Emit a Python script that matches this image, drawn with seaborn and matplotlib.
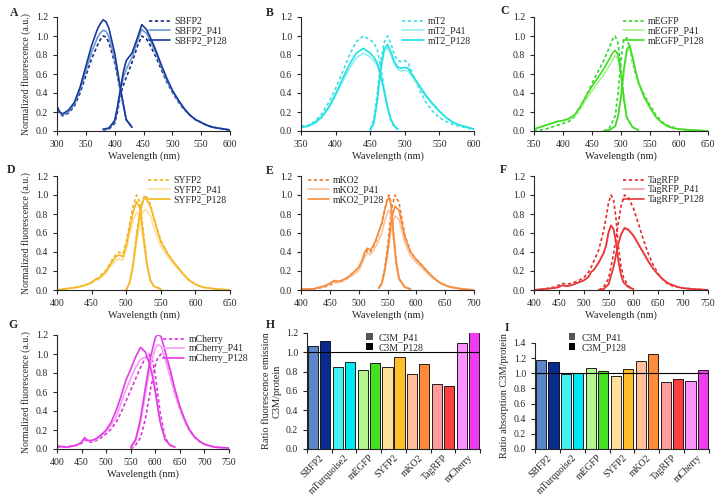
import pandas as pd
import matplotlib.pyplot as plt
import seaborn as sns
from matplotlib.patches import Patch

# =============================
# DADOS - espectros (excitacao / emissao)
# =============================

# SBFP2
sbfp2_ex_wl = [300, 305, 310, 320, 330, 340, 350, 360, 370, 375, 380, 385, 390, 400, 410, 420, 430]
sbfp2_ex = [0.22, 0.18, 0.16, 0.19, 0.26, 0.40, 0.58, 0.76, 0.90, 0.96, 1.00, 0.99, 0.93, 0.72, 0.42, 0.12, 0.04]
sbfp2_p41_ex = [0.24, 0.19, 0.17, 0.20, 0.28, 0.43, 0.63, 0.83, 0.98, 1.03, 1.06, 1.05, 0.99, 0.76, 0.43, 0.12, 0.04]
sbfp2_p128_ex = [0.26, 0.20, 0.18, 0.22, 0.30, 0.46, 0.68, 0.90, 1.07, 1.13, 1.17, 1.15, 1.08, 0.82, 0.45, 0.12, 0.04]
sbfp2_em_wl = [380, 390, 400, 405, 410, 415, 420, 430, 440, 447, 455, 460, 470, 480, 490, 500,
               510, 520, 530, 540, 550, 560, 570, 580, 590, 600]
sbfp2_em = [0.01, 0.02, 0.08, 0.20, 0.38, 0.48, 0.56, 0.72, 0.90, 1.00, 0.97, 0.92, 0.80, 0.66, 0.52, 0.41,
            0.31, 0.23, 0.17, 0.12, 0.09, 0.06, 0.04, 0.03, 0.02, 0.01]
sbfp2_p41_em = [0.01, 0.03, 0.10, 0.24, 0.42, 0.56, 0.65, 0.77, 0.96, 1.07, 1.03, 0.97, 0.84, 0.69, 0.54, 0.42,
                0.32, 0.24, 0.17, 0.12, 0.09, 0.06, 0.04, 0.03, 0.02, 0.01]
sbfp2_p128_em = [0.02, 0.03, 0.11, 0.26, 0.44, 0.62, 0.74, 0.82, 0.99, 1.12, 1.07, 1.01, 0.87, 0.71, 0.56, 0.43,
                 0.33, 0.24, 0.17, 0.12, 0.09, 0.06, 0.04, 0.03, 0.02, 0.01]

# mT2
mt2_ex_wl = [350, 360, 370, 380, 390, 400, 410, 420, 430, 440, 450, 455, 460, 465, 470, 475, 480, 485, 490]
mt2_ex = [0.05, 0.06, 0.10, 0.18, 0.30, 0.45, 0.62, 0.80, 0.94, 1.00, 0.96, 0.93, 0.86, 0.70, 0.45, 0.25, 0.10, 0.04, 0.02]
mt2_p41_ex = [0.04, 0.05, 0.08, 0.14, 0.24, 0.37, 0.52, 0.66, 0.77, 0.82, 0.78, 0.74, 0.69, 0.58, 0.42, 0.25, 0.12, 0.05, 0.02]
mt2_p128_ex = [0.04, 0.05, 0.09, 0.15, 0.25, 0.39, 0.55, 0.70, 0.82, 0.87, 0.82, 0.78, 0.72, 0.60, 0.43, 0.25, 0.12, 0.05, 0.02]
mt2_em_wl = [450, 455, 460, 465, 470, 475, 480, 485, 490, 495, 500, 505, 510, 520, 530, 540, 550, 560, 570, 580, 590, 600]
mt2_em = [0.02, 0.12, 0.38, 0.72, 0.93, 1.00, 0.92, 0.80, 0.74, 0.73, 0.74, 0.72, 0.62, 0.45, 0.31, 0.21,
          0.14, 0.10, 0.07, 0.05, 0.03, 0.02]
mt2_p41_em = [0.01, 0.08, 0.30, 0.62, 0.83, 0.88, 0.80, 0.70, 0.65, 0.63, 0.64, 0.63, 0.58, 0.47, 0.37, 0.28,
              0.20, 0.14, 0.09, 0.06, 0.04, 0.02]
mt2_p128_em = [0.01, 0.08, 0.31, 0.64, 0.86, 0.91, 0.83, 0.73, 0.67, 0.66, 0.67, 0.66, 0.60, 0.49, 0.38, 0.29,
               0.21, 0.14, 0.09, 0.06, 0.04, 0.02]

# mEGFP
megfp_ex_wl = [350, 360, 370, 380, 390, 400, 410, 420, 430, 440, 450, 460, 470, 480, 485, 490, 495, 500, 505, 510, 520, 530]
megfp_ex = [0.00, 0.01, 0.02, 0.04, 0.06, 0.08, 0.10, 0.15, 0.24, 0.37, 0.50, 0.62, 0.74, 0.88, 0.96, 1.00,
            0.92, 0.65, 0.35, 0.14, 0.04, 0.01]
megfp_p41_ex = [0.02, 0.04, 0.06, 0.08, 0.10, 0.11, 0.12, 0.16, 0.24, 0.33, 0.42, 0.51, 0.59, 0.69, 0.74, 0.79,
                0.76, 0.58, 0.33, 0.14, 0.04, 0.01]
megfp_p128_ex = [0.02, 0.04, 0.06, 0.08, 0.10, 0.11, 0.13, 0.17, 0.26, 0.37, 0.47, 0.56, 0.65, 0.76, 0.82, 0.85,
                 0.80, 0.60, 0.34, 0.14, 0.04, 0.01]
megfp_em_wl = [470, 480, 490, 495, 500, 505, 510, 515, 520, 525, 530, 540, 550, 560, 570, 580, 590, 600, 620, 650]
megfp_em = [0.00, 0.03, 0.16, 0.40, 0.75, 0.97, 0.98, 0.88, 0.72, 0.60, 0.50, 0.38, 0.27, 0.17, 0.10, 0.06,
            0.04, 0.02, 0.01, 0.00]
megfp_p41_em = [0.00, 0.01, 0.05, 0.15, 0.35, 0.62, 0.83, 0.87, 0.76, 0.62, 0.50, 0.35, 0.24, 0.15, 0.09, 0.05,
                0.03, 0.02, 0.01, 0.00]
megfp_p128_em = [0.00, 0.01, 0.05, 0.16, 0.37, 0.65, 0.86, 0.90, 0.78, 0.64, 0.52, 0.36, 0.25, 0.15, 0.09, 0.05,
                 0.03, 0.02, 0.01, 0.00]

# SYFP2
syfp2_ex_wl = [400, 410, 420, 430, 440, 450, 455, 460, 470, 480, 485, 490, 495, 500, 505, 510, 515, 520,
               525, 530, 535, 540, 550]
syfp2_ex = [0.00, 0.01, 0.02, 0.03, 0.05, 0.08, 0.11, 0.13, 0.20, 0.32, 0.37, 0.40, 0.38, 0.50, 0.70, 0.88,
            1.00, 0.92, 0.60, 0.28, 0.10, 0.04, 0.01]
syfp2_p41_ex = [0.00, 0.01, 0.02, 0.03, 0.05, 0.07, 0.10, 0.11, 0.17, 0.27, 0.31, 0.33, 0.31, 0.42, 0.58, 0.73,
                0.82, 0.76, 0.50, 0.25, 0.09, 0.04, 0.01]
syfp2_p128_ex = [0.00, 0.01, 0.02, 0.03, 0.05, 0.08, 0.11, 0.12, 0.19, 0.30, 0.35, 0.37, 0.35, 0.47, 0.65, 0.82,
                 0.93, 0.86, 0.56, 0.27, 0.10, 0.04, 0.01]
syfp2_em_wl = [500, 505, 510, 515, 520, 525, 528, 535, 540, 550, 560, 570, 580, 590, 600, 610, 620, 630, 650]
syfp2_em = [0.00, 0.08, 0.28, 0.58, 0.84, 0.97, 1.00, 0.90, 0.76, 0.52, 0.38, 0.28, 0.19, 0.11, 0.06, 0.03, 0.02, 0.01, 0.00]
syfp2_p41_em = [0.00, 0.07, 0.24, 0.50, 0.72, 0.83, 0.85, 0.78, 0.66, 0.46, 0.35, 0.26, 0.18, 0.10, 0.06, 0.03, 0.02, 0.01, 0.00]
syfp2_p128_em = [0.00, 0.08, 0.27, 0.56, 0.82, 0.95, 0.97, 0.88, 0.75, 0.51, 0.38, 0.28, 0.19, 0.11, 0.06, 0.03, 0.02, 0.01, 0.00]

# mKO2
mko2_ex_wl = [400, 420, 440, 450, 458, 465, 470, 480, 490, 500, 505, 510, 515, 520, 525, 530, 540, 545,
              550, 553, 556, 560, 565, 570, 580, 590]
mko2_ex = [0.00, 0.01, 0.03, 0.05, 0.08, 0.08, 0.09, 0.12, 0.16, 0.21, 0.27, 0.35, 0.42, 0.40, 0.45, 0.52,
           0.70, 0.84, 0.97, 1.00, 0.92, 0.62, 0.30, 0.12, 0.03, 0.01]
mko2_p41_ex = [0.01, 0.01, 0.04, 0.06, 0.09, 0.08, 0.09, 0.12, 0.16, 0.21, 0.27, 0.34, 0.39, 0.37, 0.41, 0.46,
               0.60, 0.72, 0.82, 0.84, 0.78, 0.55, 0.27, 0.11, 0.03, 0.01]
mko2_p128_ex = [0.01, 0.01, 0.04, 0.07, 0.10, 0.09, 0.10, 0.13, 0.18, 0.24, 0.30, 0.39, 0.44, 0.42, 0.46, 0.53,
                0.70, 0.84, 0.95, 0.97, 0.90, 0.62, 0.30, 0.12, 0.03, 0.01]
mko2_em_wl = [535, 540, 545, 550, 555, 558, 563, 570, 575, 580, 590, 600, 610, 620, 630, 640, 650, 660, 670, 680, 700]
mko2_em = [0.02, 0.08, 0.22, 0.45, 0.75, 0.88, 1.00, 0.92, 0.75, 0.58, 0.40, 0.32, 0.25, 0.18, 0.12, 0.08,
           0.05, 0.03, 0.02, 0.01, 0.00]
mko2_p41_em = [0.02, 0.06, 0.18, 0.36, 0.58, 0.68, 0.78, 0.74, 0.62, 0.50, 0.36, 0.29, 0.23, 0.17, 0.12, 0.08,
               0.05, 0.03, 0.02, 0.01, 0.00]
mko2_p128_em = [0.02, 0.07, 0.20, 0.40, 0.66, 0.77, 0.88, 0.84, 0.70, 0.56, 0.40, 0.32, 0.26, 0.19, 0.13, 0.08,
                0.05, 0.03, 0.02, 0.01, 0.00]

# TagRFP
tagrfp_ex_wl = [400, 420, 440, 450, 457, 465, 475, 490, 500, 510, 515, 520, 530, 540, 545, 550, 555, 560,
                565, 570, 575, 580, 590, 600]
tagrfp_ex = [0.00, 0.01, 0.03, 0.05, 0.07, 0.06, 0.07, 0.10, 0.13, 0.19, 0.24, 0.30, 0.42, 0.62, 0.76, 0.92,
             1.00, 0.95, 0.75, 0.45, 0.25, 0.13, 0.04, 0.01]
tagrfp_p41_ex = [0.00, 0.01, 0.02, 0.03, 0.05, 0.04, 0.05, 0.08, 0.10, 0.14, 0.19, 0.21, 0.28, 0.38, 0.46, 0.60,
                 0.68, 0.64, 0.50, 0.30, 0.16, 0.08, 0.03, 0.01]
tagrfp_p128_ex = [0.00, 0.01, 0.02, 0.03, 0.05, 0.04, 0.05, 0.08, 0.10, 0.14, 0.19, 0.21, 0.29, 0.39, 0.47, 0.61,
                  0.68, 0.64, 0.50, 0.30, 0.16, 0.08, 0.03, 0.01]
tagrfp_em_wl = [530, 540, 550, 560, 565, 570, 575, 582, 590, 600, 610, 620, 630, 640, 650, 660, 670, 680,
                690, 700, 720, 750]
tagrfp_em = [0.00, 0.03, 0.12, 0.38, 0.55, 0.72, 0.88, 1.00, 0.97, 0.86, 0.70, 0.53, 0.38, 0.26, 0.17, 0.10,
             0.06, 0.04, 0.03, 0.02, 0.01, 0.00]
tagrfp_p41_em = [0.00, 0.01, 0.06, 0.25, 0.38, 0.50, 0.59, 0.66, 0.64, 0.58, 0.49, 0.40, 0.31, 0.23, 0.16, 0.11,
                 0.07, 0.05, 0.03, 0.02, 0.01, 0.00]
tagrfp_p128_em = [0.00, 0.01, 0.06, 0.24, 0.37, 0.49, 0.58, 0.65, 0.63, 0.57, 0.48, 0.39, 0.30, 0.22, 0.16, 0.11,
                  0.07, 0.05, 0.03, 0.02, 0.01, 0.00]

# mCherry
mcherry_ex_wl = [400, 420, 440, 450, 456, 462, 470, 480, 490, 500, 510, 520, 530, 540, 550, 560, 570, 580,
                 587, 595, 600, 605, 610, 620, 630, 640]
mcherry_ex = [0.02, 0.02, 0.04, 0.06, 0.10, 0.08, 0.07, 0.09, 0.12, 0.16, 0.21, 0.28, 0.38, 0.50, 0.62, 0.74,
              0.86, 0.96, 1.00, 0.92, 0.78, 0.58, 0.38, 0.12, 0.04, 0.02]
mcherry_p41_ex = [0.03, 0.02, 0.04, 0.07, 0.11, 0.09, 0.08, 0.10, 0.14, 0.19, 0.25, 0.33, 0.48, 0.62, 0.74, 0.86,
                  0.94, 0.97, 0.92, 0.78, 0.62, 0.45, 0.30, 0.10, 0.04, 0.02]
mcherry_p128_ex = [0.03, 0.02, 0.04, 0.07, 0.12, 0.09, 0.09, 0.11, 0.15, 0.20, 0.28, 0.40, 0.55, 0.72, 0.84, 0.97,
                   1.07, 1.02, 0.92, 0.75, 0.60, 0.44, 0.28, 0.10, 0.04, 0.02]
mcherry_em_wl = [550, 560, 570, 580, 590, 600, 605, 612, 620, 630, 640, 650, 660, 670, 680, 690, 700, 720, 750]
mcherry_em = [0.00, 0.04, 0.12, 0.32, 0.62, 0.88, 0.96, 1.00, 0.95, 0.78, 0.58, 0.42, 0.29, 0.19, 0.12, 0.08,
              0.05, 0.02, 0.01]
mcherry_p41_em = [0.01, 0.08, 0.28, 0.58, 0.88, 1.06, 1.10, 1.08, 0.95, 0.77, 0.58, 0.42, 0.29, 0.19, 0.12, 0.08,
                  0.05, 0.02, 0.01]
mcherry_p128_em = [0.02, 0.10, 0.32, 0.65, 0.96, 1.17, 1.21, 1.18, 1.03, 0.84, 0.63, 0.45, 0.31, 0.20, 0.13, 0.08,
                   0.05, 0.02, 0.01]

# =============================
# DADOS - razoes (barras)
# =============================
proteinas = ["SBFP2", "mTurquoise2", "mEGFP", "SYFP2", "mKO2", "TagRFP", "mCherry"]
emissao_p41 = [1.07, 0.85, 0.82, 0.85, 0.78, 0.67, 1.10]
emissao_p128 = [1.12, 0.90, 0.89, 0.95, 0.88, 0.65, 1.21]
absorcao_p41 = [1.18, 0.99, 1.07, 0.96, 1.16, 0.89, 0.90]
absorcao_p128 = [1.15, 1.01, 1.03, 1.06, 1.25, 0.92, 1.04]

# cores (base, P41, P128)
cores_linhas = {
    "SBFP2": ("#1c2c7c", "#6b9bd6", "#17399a"),
    "mT2": ("#3fe0e0", "#8ff0f0", "#1fe0e4"),
    "mEGFP": ("#33d633", "#a8f090", "#40dd20"),
    "SYFP2": ("#f0b020", "#fde0a0", "#f5b825"),
    "mKO2": ("#f07828", "#fbc39c", "#f58a3a"),
    "TagRFP": ("#e03030", "#f5a0a0", "#e83535"),
    "mCherry": ("#d934d9", "#f5a0f5", "#e53ae5"),
}
cores_p41 = ["#5b87c9", "#44f0f0", "#b4f590", "#ffe09a", "#ffc09a", "#ff9c9c", "#ff90ff"]
cores_p128 = ["#0a2a90", "#00e8f0", "#44e022", "#ffbf2a", "#ff8c3a", "#ff4040", "#f23cf2"]

# =============================
# FIGURA
# =============================
sns.set_style("ticks")
plt.rcParams["font.family"] = ["Liberation Serif", "DejaVu Serif"]
plt.rcParams["font.size"] = 7
plt.rcParams["axes.linewidth"] = 0.8
plt.rcParams["xtick.major.width"] = 0.8
plt.rcParams["ytick.major.width"] = 0.8
plt.rcParams["xtick.major.size"] = 3
plt.rcParams["ytick.major.size"] = 3
plt.rcParams["xtick.labelsize"] = 7
plt.rcParams["ytick.labelsize"] = 7

W, H = 723, 500
fig = plt.figure(figsize=(7.23, 5.0), dpi=100)


def eixo_px(l, t, r, b):
    return fig.add_axes([l / W, 1 - b / H, (r - l) / W, (b - t) / H])


def painel_espectro(ax, nome, ex_wl, em_wl, curvas, xlim, ylabel, leg_loc):
    base, c41, c128 = cores_linhas[nome]
    estilos = [
        (nome, base, (0, (2, 1.5)), 1.2),
        (nome + "_P41", c41, "-", 1.2),
        (nome + "_P128", c128, "-", 1.2),
    ]
    for (rotulo, cor, ls, lw), (ex, em) in zip(estilos, curvas):
        sns.lineplot(x=ex_wl, y=ex, color=cor, linestyle=ls, linewidth=lw, ax=ax)
        sns.lineplot(x=em_wl, y=em, color=cor, linestyle=ls, linewidth=lw, ax=ax, label=rotulo)
    ax.set_xlim(*xlim)
    ax.set_ylim(0, 1.2)
    ax.set_xticks(range(xlim[0], xlim[1] + 1, 50))
    ax.set_yticks([0, 0.2, 0.4, 0.6, 0.8, 1.0, 1.2])
    ax.set_yticklabels([f"{v:.1f}" for v in [0, 0.2, 0.4, 0.6, 0.8, 1.0, 1.2]])
    ax.set_xlabel("Wavelength (nm)", fontsize=7.5, labelpad=2)
    if ylabel:
        ax.set_ylabel("Normalized fluorescence (a.u.)", fontsize=7, labelpad=3)
    else:
        ax.set_ylabel("")
    if leg_loc == "right":
        ax.legend(loc="upper right", bbox_to_anchor=(1.02, 1.06), frameon=False, fontsize=7,
                  handlelength=2.2, labelspacing=0.05, handletextpad=0.4, borderpad=0.2)
    else:
        ax.legend(loc="upper left", bbox_to_anchor=(0.0, 1.06), frameon=False, fontsize=7,
                  handlelength=2.2, labelspacing=0.05, handletextpad=0.4, borderpad=0.2)
    sns.despine(ax=ax)


axA = eixo_px(57, 17, 230, 131)
painel_espectro(axA, "SBFP2", sbfp2_ex_wl, sbfp2_em_wl,
                [(sbfp2_ex, sbfp2_em), (sbfp2_p41_ex, sbfp2_p41_em), (sbfp2_p128_ex, sbfp2_p128_em)],
                (300, 600), True, "right")

axB = eixo_px(301, 17, 474, 131)
painel_espectro(axB, "mT2", mt2_ex_wl, mt2_em_wl,
                [(mt2_ex, mt2_em), (mt2_p41_ex, mt2_p41_em), (mt2_p128_ex, mt2_p128_em)],
                (350, 600), False, "right")

axC = eixo_px(534, 17, 708, 131)
painel_espectro(axC, "mEGFP", megfp_ex_wl, megfp_em_wl,
                [(megfp_ex, megfp_em), (megfp_p41_ex, megfp_p41_em), (megfp_p128_ex, megfp_p128_em)],
                (350, 650), False, "right")

axD = eixo_px(57, 176, 230, 290)
painel_espectro(axD, "SYFP2", syfp2_ex_wl, syfp2_em_wl,
                [(syfp2_ex, syfp2_em), (syfp2_p41_ex, syfp2_p41_em), (syfp2_p128_ex, syfp2_p128_em)],
                (400, 650), True, "right")

axE = eixo_px(301, 176, 474, 290)
painel_espectro(axE, "mKO2", mko2_ex_wl, mko2_em_wl,
                [(mko2_ex, mko2_em), (mko2_p41_ex, mko2_p41_em), (mko2_p128_ex, mko2_p128_em)],
                (400, 700), False, "left")

axF = eixo_px(534, 176, 708, 290)
painel_espectro(axF, "TagRFP", tagrfp_ex_wl, tagrfp_em_wl,
                [(tagrfp_ex, tagrfp_em), (tagrfp_p41_ex, tagrfp_p41_em), (tagrfp_p128_ex, tagrfp_p128_em)],
                (400, 750), False, "right")

axG = eixo_px(57, 335, 229, 449)
painel_espectro(axG, "mCherry", mcherry_ex_wl, mcherry_em_wl,
                [(mcherry_ex, mcherry_em), (mcherry_p41_ex, mcherry_p41_em), (mcherry_p128_ex, mcherry_p128_em)],
                (400, 750), True, "right")
axG.get_legend().set_bbox_to_anchor((1.15, 1.06))


def painel_barras(ax, p41, p128, ylim, yticks, ylabel, leg_anchor):
    df = pd.DataFrame({
        "proteina": proteinas * 2,
        "razao": p41 + p128,
        "variante": ["C3M_P41"] * len(proteinas) + ["C3M_P128"] * len(proteinas),
    })
    sns.barplot(data=df, x="proteina", y="razao", hue="variante",
                palette={"C3M_P41": "#555555", "C3M_P128": "#000000"},
                width=0.97, gap=0.16, edgecolor="black", linewidth=0.6, ax=ax, legend=False)
    for cont, cores in zip(ax.containers, [cores_p41, cores_p128]):
        for barra, cor in zip(cont, cores):
            barra.set_facecolor(cor)
    ax.axhline(1.0, color="black", linewidth=0.8)
    ax.set_xlim(-0.5, 6.5)
    ax.set_ylim(*ylim)
    ax.set_yticks(yticks)
    ax.set_yticklabels([f"{v:.1f}" for v in yticks])
    ax.set_xticks(range(len(proteinas)))
    ax.set_xticklabels(proteinas, rotation=45, ha="right", rotation_mode="anchor", fontsize=7)
    ax.tick_params(axis="x", which="major", length=0, pad=3)
    ax.set_xticks([i - 0.5 for i in range(len(proteinas) + 1)], minor=True)
    ax.tick_params(axis="x", which="minor", length=3, width=0.8)
    ax.set_xlabel("")
    ax.set_ylabel(ylabel, fontsize=7.5, labelpad=3)
    handles = [Patch(facecolor="#555555", edgecolor="none"), Patch(facecolor="black", edgecolor="none")]
    ax.legend(handles, ["C3M_P41", "C3M_P128"], loc="upper left", bbox_to_anchor=leg_anchor,
              frameon=False, fontsize=7, handlelength=0.7, handleheight=0.7,
              labelspacing=0.1, handletextpad=0.6, borderpad=0.1)
    sns.despine(ax=ax)


axH = eixo_px(307, 333, 480, 449)
painel_barras(axH, emissao_p41, emissao_p128, (0, 1.2), [0, 0.2, 0.4, 0.6, 0.8, 1.0, 1.2],
              "Ratio fluorescence emission\nC3M/protein", (0.31, 1.05))

axI = eixo_px(535, 343, 709, 449)
painel_barras(axI, absorcao_p41, absorcao_p128, (0, 1.4), [0, 0.2, 0.4, 0.6, 0.8, 1.0, 1.2, 1.4],
              "Ratio absorption C3M/protein", (0.16, 1.15))

# letras dos paineis
letras = [("A", 10, 13), ("B", 266, 13), ("C", 500, 11), ("D", 7, 170), ("E", 266, 171),
          ("F", 500, 170), ("G", 8, 325), ("H", 266, 325), ("I", 505, 328)]
for letra, x, y in letras:
    fig.text(x / W, 1 - y / H, letra, fontsize=8.5, fontweight="bold", ha="left", va="center")

plt.savefig("out.png", dpi=100)
plt.close()
